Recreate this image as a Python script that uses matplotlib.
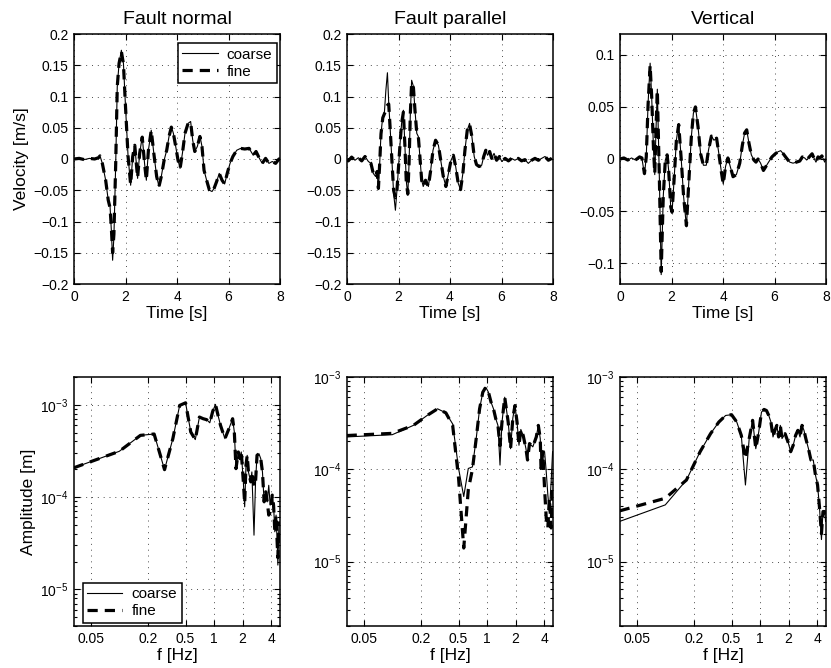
import matplotlib
matplotlib.use('Agg')
import matplotlib.pyplot as plt
from matplotlib.ticker import NullLocator, NullFormatter, FixedLocator, FixedFormatter, LogLocator
from matplotlib.lines import Line2D

plt.rcParams['font.family'] = ['Liberation Sans', 'DejaVu Sans']
plt.rcParams['mathtext.fontset'] = 'custom'
plt.rcParams['mathtext.rm'] = 'Liberation Sans'
plt.rcParams['mathtext.it'] = 'Liberation Sans:italic'
plt.rcParams['mathtext.bf'] = 'Liberation Sans:bold'

# ---------------- data: velocity time series ----------------
titles = ['Fault normal', 'Fault parallel', 'Vertical']

t_fn = [0.0, 0.2, 0.4, 0.6, 0.8, 0.95, 1.01, 1.10, 1.23, 1.33, 1.40, 1.45, 1.50, 1.55, 1.62, 1.68,
        1.75, 1.84, 1.92, 2.00, 2.10, 2.20, 2.28, 2.36, 2.42, 2.47, 2.55, 2.65, 2.74, 2.81, 2.89,
        3.00, 3.10, 3.21, 3.30, 3.39, 3.50, 3.60, 3.69, 3.78, 3.86, 3.95, 4.04, 4.12, 4.21, 4.31,
        4.43, 4.53, 4.61, 4.69, 4.79, 4.89, 4.97, 5.05, 5.15, 5.26, 5.36, 5.44, 5.54, 5.64, 5.75,
        5.85, 5.95, 6.06, 6.17, 6.32, 6.47, 6.63, 6.80, 6.96, 7.07, 7.20, 7.31, 7.44, 7.57, 7.70,
        7.83, 7.96, 8.00]
v_fn_coarse = [0.000, 0.001, -0.001, 0.001, 0.000, 0.002, 0.005, -0.007, -0.034, -0.066, -0.076,
               -0.114, -0.162, -0.124, -0.007, 0.116, 0.153, 0.174, 0.153, 0.084, 0.004, -0.042,
               0.004, 0.022, -0.007, -0.031, 0.009, 0.036, -0.007, -0.034, 0.014, 0.046, 0.009,
               -0.028, -0.044, -0.028, -0.002, 0.014, 0.036, 0.052, 0.041, 0.020, -0.002, -0.015,
               0.009, 0.041, 0.057, 0.060, 0.030, 0.012, 0.020, 0.037, 0.020, -0.018, -0.034,
               -0.050, -0.052, -0.047, -0.036, -0.023, -0.034, -0.040, -0.023, -0.007, 0.004,
               0.014, 0.017, 0.016, 0.017, 0.006, 0.012, 0.001, -0.007, 0.001, -0.007, -0.004,
               -0.007, 0.000, 0.000]
v_fn_fine = [0.000, 0.001, -0.001, 0.001, 0.000, 0.002, 0.005, -0.007, -0.034, -0.066, -0.078,
             -0.110, -0.150, -0.120, -0.007, 0.116, 0.153, 0.172, 0.152, 0.084, 0.004, -0.041,
             0.004, 0.022, -0.007, -0.030, 0.009, 0.035, -0.007, -0.034, 0.014, 0.046, 0.009,
             -0.028, -0.044, -0.028, -0.002, 0.014, 0.036, 0.051, 0.041, 0.020, -0.002, -0.015,
             0.009, 0.041, 0.057, 0.059, 0.030, 0.012, 0.020, 0.036, 0.020, -0.018, -0.034,
             -0.050, -0.053, -0.047, -0.036, -0.023, -0.034, -0.040, -0.023, -0.007, 0.004,
             0.014, 0.017, 0.016, 0.017, 0.006, 0.012, 0.001, -0.007, 0.001, -0.007, -0.004,
             -0.007, 0.000, 0.000]

t_fp = [0.0, 0.05, 0.18, 0.31, 0.44, 0.57, 0.70, 0.83, 0.93, 1.02, 1.11, 1.17, 1.22, 1.27, 1.32,
        1.39, 1.45, 1.51, 1.57, 1.62, 1.68, 1.75, 1.81, 1.88, 1.94, 2.01, 2.07, 2.12, 2.19, 2.25,
        2.30, 2.36, 2.41, 2.46, 2.51, 2.58, 2.64, 2.71, 2.77, 2.83, 2.90, 2.96, 3.05, 3.16, 3.25,
        3.34, 3.44, 3.55, 3.64, 3.74, 3.84, 3.94, 4.04, 4.13, 4.22, 4.32, 4.41, 4.50, 4.58, 4.67,
        4.76, 4.85, 4.94, 5.03, 5.13, 5.23, 5.31, 5.39, 5.46, 5.54, 5.62, 5.71, 5.81, 5.92, 6.01,
        6.14, 6.27, 6.39, 6.52, 6.65, 6.78, 6.91, 7.04, 7.17, 7.30, 7.43, 7.56, 7.69, 7.82, 7.95]
v_fp_coarse = [0.000, -0.003, 0.003, -0.002, 0.002, -0.003, 0.004, -0.004, -0.007, -0.023, -0.028,
               -0.020, -0.049, -0.007, 0.041, 0.068, 0.073, 0.110, 0.138, 0.090, 0.046, -0.007,
               -0.055, -0.082, -0.050, -0.007, 0.030, 0.057, 0.078, 0.020, -0.034, -0.058, -0.007,
               0.073, 0.126, 0.116, 0.078, 0.041, 0.036, 0.004, -0.034, -0.044, -0.034, -0.044,
               -0.018, 0.014, 0.030, 0.022, -0.002, -0.028, -0.044, -0.023, -0.002, 0.006, -0.012,
               -0.039, -0.049, -0.023, 0.014, 0.046, 0.057, 0.036, 0.004, -0.009, -0.012, -0.010,
               0.004, 0.014, 0.006, 0.012, 0.001, 0.009, -0.002, 0.004, -0.004, 0.001, -0.003,
               0.001, -0.002, 0.001, -0.003, -0.001, -0.007, -0.002, 0.001, -0.002, 0.001, 0.004,
               -0.002, 0.001]
v_fp_fine = [0.000, -0.003, 0.003, -0.002, 0.002, -0.003, 0.004, -0.004, -0.007, -0.023, -0.028,
             -0.020, -0.047, -0.007, 0.040, 0.066, 0.072, 0.078, 0.086, 0.088, 0.046, -0.007,
             -0.050, -0.062, -0.050, -0.007, 0.030, 0.057, 0.075, 0.020, -0.034, -0.056, -0.007,
             0.073, 0.122, 0.114, 0.078, 0.041, 0.036, 0.004, -0.034, -0.044, -0.034, -0.044,
             -0.018, 0.014, 0.030, 0.022, -0.002, -0.028, -0.044, -0.023, -0.002, 0.006, -0.012,
             -0.039, -0.049, -0.023, 0.014, 0.046, 0.056, 0.036, 0.004, -0.009, -0.012, -0.010,
             0.004, 0.014, 0.006, 0.012, 0.001, 0.009, -0.002, 0.004, -0.004, 0.001, -0.003,
             0.001, -0.002, 0.001, -0.003, -0.001, -0.007, -0.002, 0.001, -0.002, 0.001, 0.004,
             -0.002, 0.001]

t_v = [0.0, 0.15, 0.30, 0.45, 0.60, 0.76, 0.85, 0.95, 1.02, 1.09, 1.17, 1.23, 1.30, 1.35, 1.40,
       1.45, 1.53, 1.60, 1.68, 1.76, 1.83, 1.89, 1.97, 2.02, 2.10, 2.19, 2.28, 2.38, 2.47, 2.58,
       2.67, 2.77, 2.85, 2.93, 3.03, 3.13, 3.24, 3.35, 3.44, 3.55, 3.65, 3.75, 3.84, 3.94, 4.01,
       4.10, 4.19, 4.28, 4.39, 4.52, 4.65, 4.75, 4.84, 4.92, 5.01, 5.10, 5.20, 5.28, 5.36, 5.46,
       5.57, 5.67, 5.77, 5.90, 6.03, 6.14, 6.24, 6.34, 6.46, 6.59, 6.72, 6.85, 6.98, 7.08, 7.17,
       7.25, 7.35, 7.46, 7.53, 7.61, 7.69, 7.77, 7.84, 7.95, 8.00]
v_v_coarse = [0.000, 0.001, -0.001, 0.001, -0.001, 0.002, 0.001, -0.015, 0.002, 0.053, 0.092,
              0.060, 0.010, -0.015, 0.030, 0.067, -0.020, -0.111, -0.036, -0.001, 0.004, -0.011,
              -0.046, -0.052, -0.020, 0.018, 0.034, -0.001, -0.036, -0.065, -0.023, 0.021, 0.044,
              0.050, 0.031, 0.005, -0.006, -0.006, 0.009, 0.022, 0.018, 0.020, 0.005, -0.013,
              -0.024, -0.007, 0.001, -0.007, -0.017, -0.015, -0.004, 0.013, 0.025, 0.028, 0.015,
              0.004, -0.001, -0.003, 0.000, -0.004, -0.011, -0.007, -0.003, 0.002, 0.005, 0.007,
              0.008, 0.005, 0.001, -0.003, -0.004, -0.003, -0.002, 0.002, 0.001, -0.001, 0.002,
              0.005, 0.001, -0.003, 0.002, 0.001, 0.003, -0.003, 0.000]
v_v_fine = [0.000, 0.001, -0.001, 0.001, -0.001, 0.002, 0.001, -0.014, 0.002, 0.052, 0.090,
            0.060, 0.010, -0.014, 0.030, 0.066, -0.020, -0.108, -0.036, -0.001, 0.004, -0.011,
            -0.046, -0.051, -0.020, 0.018, 0.033, -0.001, -0.036, -0.064, -0.023, 0.021, 0.044,
            0.050, 0.031, 0.005, -0.006, -0.006, 0.009, 0.022, 0.018, 0.020, 0.005, -0.013,
            -0.024, -0.007, 0.001, -0.007, -0.017, -0.015, -0.004, 0.013, 0.025, 0.028, 0.015,
            0.004, -0.001, -0.003, 0.000, -0.004, -0.011, -0.007, -0.003, 0.002, 0.005, 0.007,
            0.008, 0.005, 0.001, -0.003, -0.004, -0.003, -0.002, 0.002, 0.001, -0.001, 0.002,
            0.005, 0.001, -0.003, 0.002, 0.001, 0.003, -0.003, 0.000]

# ---------------- data: amplitude spectra ----------------
f_fn = [0.033, 0.1, 0.167, 0.233, 0.3, 0.367, 0.433, 0.5, 0.567, 0.633, 0.7, 0.767, 0.833, 0.9,
        0.967, 1.033, 1.1, 1.167, 1.3, 1.433, 1.567, 1.633, 1.7, 1.8, 1.867, 1.933, 2.033, 2.1,
        2.167, 2.233, 2.3, 2.433, 2.5, 2.633, 2.733, 2.833, 2.967, 3.1, 3.233, 3.367, 3.5, 3.633,
        3.767, 3.9, 4.1, 4.233, 4.367, 4.5, 4.633, 4.7, 4.833]
a_fn_coarse = [2.07e-4, 3.13e-4, 4.66e-4, 4.82e-4, 1.98e-4, 4.29e-4, 9.84e-4, 1.05e-3, 5.07e-4,
               4.19e-4, 7.36e-4, 7.06e-4, 6.9e-4, 6.38e-4, 8.5e-4, 1.01e-3, 7.67e-4, 6.0e-4,
               4.29e-4, 5.51e-4, 7.06e-4, 5.07e-4, 2.03e-4, 3.08e-4, 2.61e-4, 3.08e-4, 1.46e-4,
               7.83e-5, 2.21e-4, 2.83e-4, 1.87e-4, 1.46e-4, 1.87e-4, 3.86e-5, 1.46e-4, 2.83e-4,
               2.95e-4, 2.61e-4, 1.87e-4, 8.87e-5, 1.14e-4, 8.87e-5, 1.34e-4, 8.17e-5, 1.05e-4,
               8.17e-5, 4.20e-5, 6.37e-5, 3.01e-5, 1.83e-5, 5.40e-5]
a_fn_fine = [2.07e-4, 3.13e-4, 4.66e-4, 4.82e-4, 1.98e-4, 4.29e-4, 9.84e-4, 1.05e-3, 5.07e-4,
             4.19e-4, 7.36e-4, 7.06e-4, 6.9e-4, 6.38e-4, 8.5e-4, 1.01e-3, 7.67e-4, 6.0e-4,
             4.29e-4, 5.51e-4, 7.06e-4, 5.07e-4, 2.03e-4, 3.08e-4, 2.61e-4, 3.08e-4, 1.46e-4,
             8.5e-5, 2.21e-4, 2.83e-4, 1.87e-4, 1.46e-4, 1.87e-4, 1.3e-4, 1.46e-4, 2.83e-4,
             2.95e-4, 2.61e-4, 1.87e-4, 8.87e-5, 1.14e-4, 8.87e-5, 6.37e-5, 6.9e-5, 1.05e-4,
             8.17e-5, 4.20e-5, 6.37e-5, 3.01e-5, 2.2e-5, 5.40e-5]

f_fp = [0.033, 0.1, 0.167, 0.233, 0.3, 0.367, 0.433, 0.5, 0.567, 0.633, 0.7, 0.767, 0.833, 0.9,
        0.967, 1.033, 1.1, 1.167, 1.233, 1.3, 1.367, 1.433, 1.533, 1.667, 1.767, 1.867, 1.967,
        2.067, 2.167, 2.267, 2.4, 2.567, 2.667, 2.8, 3.033, 3.3, 3.467, 3.633, 3.7, 3.867, 4.033,
        4.2, 4.367, 4.533, 4.733, 4.9]
a_fp_coarse = [2.24e-4, 2.37e-4, 2.99e-4, 3.83e-4, 4.52e-4, 4.09e-4, 3.1e-4, 1.02e-4, 5.06e-5,
               1.02e-4, 1.06e-4, 2.15e-4, 4.52e-4, 6.84e-4, 7.74e-4, 6.84e-4, 5.33e-4, 4.52e-4,
               3.53e-4, 2.99e-4, 1.11e-4, 3.2e-4, 6.04e-4, 3.25e-4, 1.67e-4, 3.6e-4, 4.91e-4,
               3.25e-4, 1.82e-4, 2.7e-4, 2.33e-4, 1.67e-4, 1.26e-4, 1.90e-4, 1.75e-4, 2.24e-4,
               2.99e-4, 2.15e-4, 1.02e-4, 1.55e-4, 1.55e-4, 9.4e-5, 5.27e-5, 3.48e-5, 7.33e-5,
               1.55e-4]
a_fp_fine = [2.32e-4, 2.45e-4, 2.99e-4, 3.83e-4, 4.52e-4, 4.09e-4, 3.0e-4, 8.0e-5, 1.4e-5,
             6.0e-5, 1.0e-4, 2.15e-4, 4.52e-4, 6.84e-4, 7.74e-4, 6.84e-4, 5.33e-4, 4.52e-4,
             3.53e-4, 2.99e-4, 1.8e-4, 3.2e-4, 6.04e-4, 3.25e-4, 1.67e-4, 3.6e-4, 4.91e-4,
             3.25e-4, 1.82e-4, 2.7e-4, 2.33e-4, 1.67e-4, 1.26e-4, 1.90e-4, 1.75e-4, 2.24e-4,
             2.99e-4, 2.15e-4, 1.02e-4, 1.55e-4, 6.2e-5, 2.95e-5, 2.31e-5, 4.85e-5, 2.31e-5,
             7.33e-5]

f_v = [0.033, 0.1, 0.167, 0.233, 0.3, 0.367, 0.433, 0.5, 0.567, 0.633, 0.7, 0.767, 0.833, 0.9,
       0.967, 1.033, 1.1, 1.167, 1.233, 1.3, 1.367, 1.433, 1.5, 1.567, 1.633, 1.7, 1.833, 1.967,
       2.1, 2.233, 2.367, 2.5, 2.633, 2.767, 2.9, 3.033, 3.233, 3.433, 3.633, 3.833, 4.033,
       4.233, 4.433, 4.6, 4.8, 4.9]
a_v_coarse = [2.72e-5, 4.11e-5, 7.64e-5, 1.55e-4, 2.43e-4, 3.25e-4, 3.83e-4, 3.90e-4, 3.25e-4,
              2.33e-4, 6.75e-5, 2.15e-4, 3.39e-4, 1.67e-4, 2.54e-4, 4.16e-4, 4.45e-4, 4.33e-4,
              3.83e-4, 3.25e-4, 2.24e-4, 2.64e-4, 2.99e-4, 2.24e-4, 2.99e-4, 2.15e-4, 2.43e-4,
              1.98e-4, 1.55e-4, 1.82e-4, 2.33e-4, 2.64e-4, 2.24e-4, 2.99e-4, 2.64e-4, 2.15e-4,
              1.67e-4, 1.26e-4, 1.26e-4, 8.65e-5, 6.75e-5, 3.79e-5, 1.73e-5, 3.48e-5, 3.48e-5,
              2.72e-5]
a_v_fine = [3.54e-5, 4.85e-5, 7.64e-5, 1.55e-4, 2.43e-4, 3.25e-4, 3.83e-4, 3.90e-4, 3.25e-4,
            2.33e-4, 1.3e-4, 2.15e-4, 3.39e-4, 1.67e-4, 2.54e-4, 4.16e-4, 4.45e-4, 4.33e-4,
            3.83e-4, 3.25e-4, 2.24e-4, 2.64e-4, 2.99e-4, 2.24e-4, 2.99e-4, 2.15e-4, 2.43e-4,
            1.98e-4, 1.55e-4, 1.82e-4, 2.33e-4, 2.64e-4, 2.24e-4, 2.99e-4, 2.64e-4, 2.15e-4,
            1.67e-4, 1.26e-4, 1.26e-4, 8.65e-5, 6.75e-5, 3.79e-5, 2.0e-5, 3.48e-5, 3.48e-5,
            2.9e-5]

# ---------------- axis settings ----------------
time_xticks = [0, 2, 4, 6, 8]
vel_ylims = [(-0.2, 0.2), (-0.2, 0.2), (-0.12, 0.12)]
vel_yticks = [[-0.2, -0.15, -0.1, -0.05, 0, 0.05, 0.1, 0.15, 0.2],
              [-0.2, -0.15, -0.1, -0.05, 0, 0.05, 0.1, 0.15, 0.2],
              [-0.1, -0.05, 0, 0.05, 0.1]]
vel_yticklabels = [['\u22120.2', '\u22120.15', '\u22120.1', '\u22120.05', '0', '0.05', '0.1', '0.15', '0.2'],
                   ['\u22120.2', '\u22120.15', '\u22120.1', '\u22120.05', '0', '0.05', '0.1', '0.15', '0.2'],
                   ['\u22120.1', '\u22120.05', '0', '0.05', '0.1']]
freq_xticks = [0.05, 0.2, 0.5, 1, 2, 4]
freq_xticklabels = ['0.05', '0.2', '0.5', '1', '2', '4']
freq_xlim = (0.0333, 4.95)
amp_ylims = [(4e-6, 2e-3), (2e-6, 1e-3), (2e-6, 1e-3)]

# ---------------- figure ----------------
W, H = 831, 668
fig = plt.figure(figsize=(W / 100, H / 100), dpi=100)

def add_ax(x0, y_top, w, h):
    return fig.add_axes([x0 / W, 1 - (y_top + h) / H, w / W, h / H])

lefts = [74, 347, 620]
top_axes = [add_ax(x, 34, 206, 250) for x in lefts]
bot_axes = [add_ax(x, 377, 206, 249) for x in lefts]

coarse_kw = dict(color='black', lw=0.8, solid_joinstyle='round')
fine_kw = dict(color='black', lw=2.3, linestyle=(0, (3.2, 2.2)), dash_capstyle='butt')
grid_kw = dict(color='0.3', linestyle=(0, (1, 5)), linewidth=0.7)

def style(ax):
    ax.tick_params(direction='in', which='both', top=True, right=True, labelsize=10,
                   length=4, width=0.8, pad=4)
    ax.tick_params(which='minor', length=2.2)
    for s in ax.spines.values():
        s.set_linewidth(1.1)
    ax.grid(True, which='major', **grid_kw)
    ax.set_axisbelow(True)

vel_data = [(t_fn, v_fn_coarse, v_fn_fine), (t_fp, v_fp_coarse, v_fp_fine), (t_v, v_v_coarse, v_v_fine)]
for i, ax in enumerate(top_axes):
    t, vc, vf = vel_data[i]
    ax.plot(t, vc, **coarse_kw)
    ax.plot(t, vf, **fine_kw)
    ax.set_xlim(0, 8)
    ax.set_ylim(*vel_ylims[i])
    ax.set_xticks(time_xticks)
    ax.set_yticks(vel_yticks[i])
    ax.set_yticklabels(vel_yticklabels[i])
    style(ax)
    ax.set_title(titles[i], fontsize=14, pad=7)
    ax.set_xlabel('Time [s]', fontsize=12.5, labelpad=2)
top_axes[0].set_ylabel('Velocity [m/s]', fontsize=12.5, labelpad=3)

amp_data = [(f_fn, a_fn_coarse, a_fn_fine), (f_fp, a_fp_coarse, a_fp_fine), (f_v, a_v_coarse, a_v_fine)]
for i, ax in enumerate(bot_axes):
    f, ac, af = amp_data[i]
    ax.plot(f, ac, **coarse_kw)
    ax.plot(f, af, **fine_kw)
    ax.set_xscale('log')
    ax.set_yscale('log')
    ax.set_xlim(*freq_xlim)
    ax.set_ylim(*amp_ylims[i])
    ax.xaxis.set_major_locator(FixedLocator(freq_xticks))
    ax.xaxis.set_major_formatter(FixedFormatter(freq_xticklabels))
    ax.xaxis.set_minor_locator(NullLocator())
    ax.yaxis.set_major_locator(LogLocator(base=10, numticks=10))
    ax.yaxis.set_minor_locator(LogLocator(base=10, subs=range(2, 10), numticks=20))
    ax.yaxis.set_minor_formatter(NullFormatter())
    style(ax)
    ax.set_xlabel('f [Hz]', fontsize=12.5, labelpad=2)
bot_axes[0].set_ylabel('Amplitude [m]', fontsize=12.5, labelpad=3)

handles = [Line2D([], [], **coarse_kw), Line2D([], [], **fine_kw)]
leg_kw = dict(fancybox=False, edgecolor='black', framealpha=1, fontsize=11,
              handlelength=2.3, handletextpad=0.6, borderpad=0.3, labelspacing=0.2,
              borderaxespad=0)
l1 = top_axes[0].legend(handles, ['coarse', 'fine'], loc='upper right',
                        bbox_to_anchor=(0.985, 0.964), **leg_kw)
l1.get_frame().set_linewidth(1.1)
l2 = bot_axes[0].legend(handles, ['coarse', 'fine'], loc='lower left',
                        bbox_to_anchor=(0.042, 0.012), **leg_kw)
l2.get_frame().set_linewidth(1.1)

fig.savefig('out.png', dpi=100)
